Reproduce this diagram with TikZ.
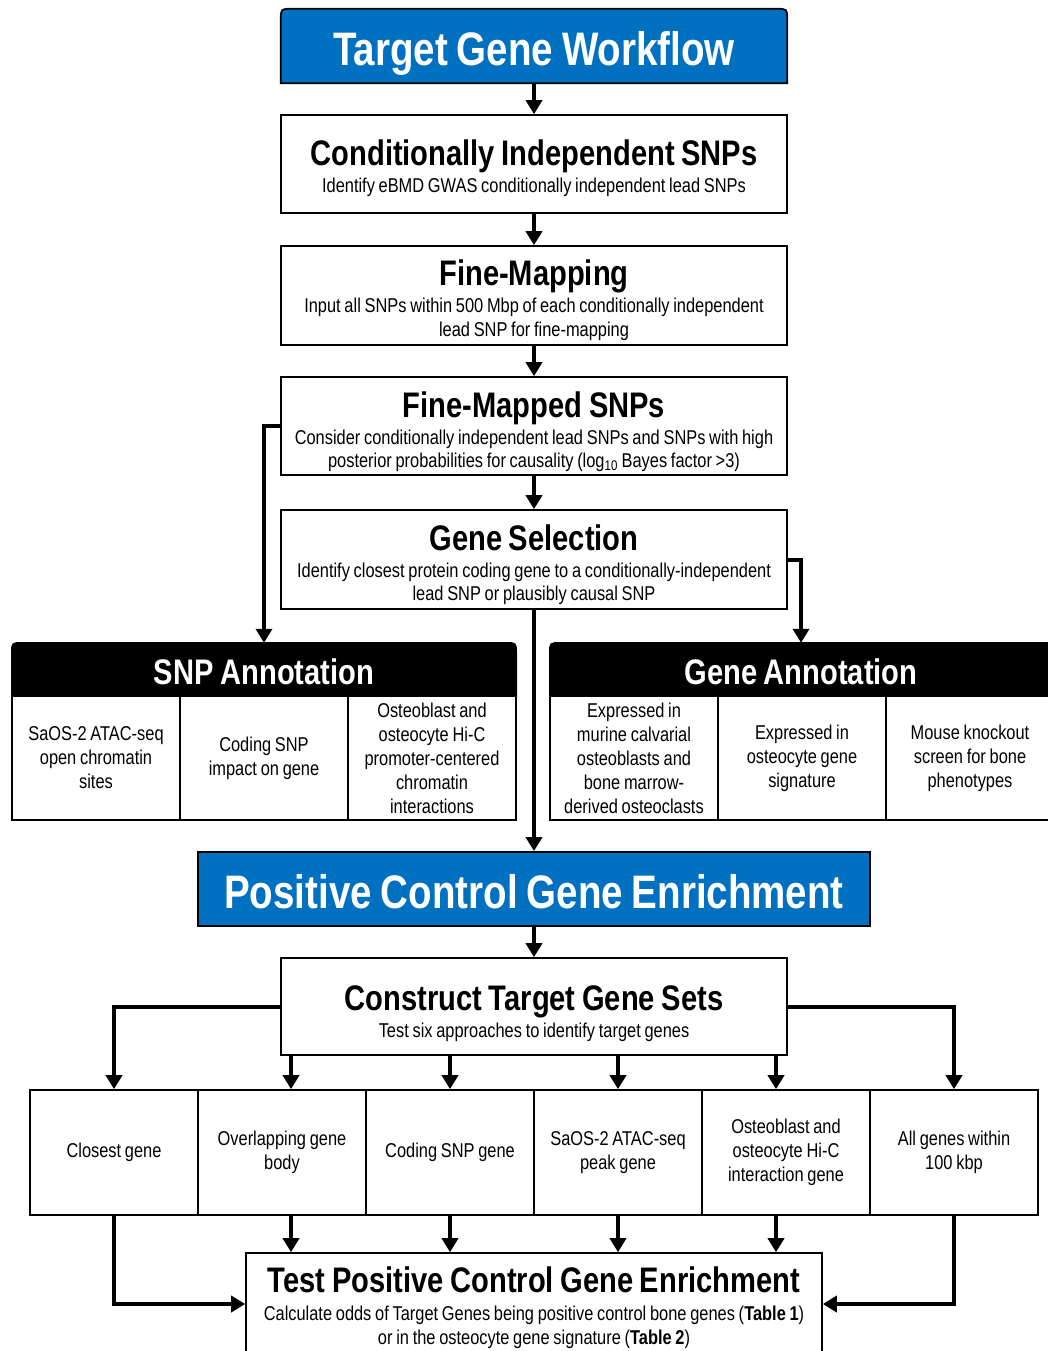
\documentclass[tikz,border=0pt]{standalone}
\usepackage{fontspec}
\setmainfont[FakeStretch=0.82,WordSpace=0.82]{Liberation Sans}
\usetikzlibrary{arrows.meta,calc}
\definecolor{wfblue}{HTML}{0070C0}
\newcommand{\toprnd}[1]{(#1.south west) -- ($(#1.north west)+(0,11)$) .. controls (#1.north west) .. ($(#1.north west)+(11,0)$) -- ($(#1.north east)+(-11,0)$) .. controls (#1.north east) .. ($(#1.north east)+(0,11)$) -- (#1.south east) -- cycle}
\begin{document}
\begin{tikzpicture}[x=1pt,y=-1pt,
  frame/.style={draw=none,inner sep=0pt},
  box/.style={draw=black,line width=1.6pt,fill=white,inner sep=0pt,minimum width=506pt},
  bluebox/.style={draw=black,line width=1.8pt,fill=wfblue,inner sep=0pt},
  cell/.style={draw=black,line width=1.6pt,fill=white,inner sep=0pt,minimum width=168pt,align=center,font=\fontsize{20}{24}\selectfont},
  big/.style={font=\fontsize{47}{56}\selectfont\bfseries,text=white,anchor=base,inner sep=0pt},
  head/.style={font=\fontsize{35.5}{42}\selectfont\bfseries,anchor=base,inner sep=0pt},
  hwhite/.style={head,text=white},
  body/.style={font=\fontsize{20}{24}\selectfont,anchor=base,inner sep=0pt},
  arr/.style={line width=4pt,-{Triangle[width=16pt,length=14pt]}}
]
\useasboundingbox[fill=white] (0,0) rectangle (1048,1351);

% ---------- top chain ----------
\node[frame,minimum width=506pt,minimum height=74pt] (title) at (534,46) {};
\fill[wfblue] \toprnd{title};
\draw[black,line width=1.8pt] \toprnd{title};
\node[big] (titleT) at (534,66) {Target Gene Workflow};

\node[box,minimum height=98pt] (cis) at (534,164) {};
\node[head] (cisT) at (534,166) {Conditionally Independent SNPs};
\node[body] (cisS) at (534,193) {Identify eBMD GWAS conditionally independent lead SNPs};

\node[box,minimum height=99pt] (fm) at (534,295.5) {};
\node[head] (fmT) at (534,285) {Fine-Mapping};
\node[body] (fmS1) at (534,312) {Input all SNPs within 500 Mbp of each conditionally independent};
\node[body] (fmS2) at (534,336) {lead SNP for fine-mapping};

\node[box,minimum height=98pt] (fms) at (534,426) {};
\node[head] (fmsT) at (534,417) {Fine-Mapped SNPs};
\node[body] (fmsS1) at (534,444) {Consider conditionally independent lead SNPs and SNPs with high};
\node[body] (fmsS2) at (534,467) {posterior probabilities for causality (log\textsubscript{10} Bayes factor >3)};

\node[box,minimum height=99pt] (gs) at (534,559.5) {};
\node[head] (gsT) at (534,550) {Gene Selection};
\node[body] (gsS1) at (534,577) {Identify closest protein coding gene to a conditionally-independent};
\node[body] (gsS2) at (534,600) {lead SNP or plausibly causal SNP};

% ---------- SNP annotation ----------
\node[frame,minimum width=504pt,minimum height=53pt] (snpann) at (264,669.5) {};
\filldraw[black,line width=1.6pt] \toprnd{snpann};
\node[hwhite] (snpannT) at (264,684) {SNP Annotation};
\node[cell,minimum height=124pt] (s1) at (96,758) {SaOS-2 ATAC-seq\\open chromatin\\sites};
\node[cell,minimum height=124pt] (s2) at (264,758) {Coding SNP\\impact on gene};
\node[cell,minimum height=124pt] (s3) at (432,758) {Osteoblast and\\osteocyte Hi-C\\promoter-centered\\chromatin\\interactions};

% ---------- Gene annotation ----------
\node[frame,minimum width=502pt,minimum height=53pt] (geneann) at (801,669.5) {};
\filldraw[black,line width=1.6pt] \toprnd{geneann};
\node[hwhite] (geneannT) at (801,684) {Gene Annotation};
\node[cell,minimum height=124pt] (g1) at (634,758) {Expressed in\\murine calvarial\\osteoblasts and\\bone marrow-\\derived osteoclasts};
\node[cell,minimum height=124pt] (g2) at (802,758) {Expressed in\\osteocyte gene\\signature};
\node[cell,minimum height=124pt] (g3) at (970,758) {Mouse knockout\\screen for bone\\phenotypes};

% ---------- positive control ----------
\node[bluebox,minimum width=672pt,minimum height=74pt] (pcge) at (534,889) {};
\node[big] (pcgeT) at (534,908) {Positive Control Gene Enrichment};

\node[box,minimum height=97pt] (ctgs) at (534,1006.5) {};
\node[head] (ctgsT) at (534,1010) {Construct Target Gene Sets};
\node[body] (ctgsS) at (534,1037) {Test six approaches to identify target genes};

\node[cell,minimum height=125pt] (c1) at (114,1152.5) {Closest gene};
\node[cell,minimum height=125pt] (c2) at (282,1152.5) {Overlapping gene\\body};
\node[cell,minimum height=125pt] (c3) at (450,1152.5) {Coding SNP gene};
\node[cell,minimum height=125pt] (c4) at (618,1152.5) {SaOS-2 ATAC-seq\\peak gene};
\node[cell,minimum height=125pt] (c5) at (786,1152.5) {Osteoblast and\\osteocyte Hi-C\\interaction gene};
\node[cell,minimum height=125pt] (c6) at (954,1152.5) {All genes within\\100 kbp};

\node[box,minimum width=576pt,minimum height=102pt] (test) at (534,1304) {};
\node[head] (testT) at (534,1292) {Test Positive Control Gene Enrichment};
\node[body] (testS1) at (534,1320) {Calculate odds of Target Genes being positive control bone genes (\textbf{Table 1})};
\node[body] (testS2) at (534,1344) {or in the osteocyte gene signature (\textbf{Table 2})};

% ---------- connectors ----------
\draw[arr] (title.south) -- (cis.north);
\draw[arr] (cis.south) -- (fm.north);
\draw[arr] (fm.south) -- (fms.north);
\draw[arr] (fms.south) -- (gs.north);
\draw[arr] (fms.west) -| (snpann.north);
\draw[arr] (gs.east) -| (geneann.north);
\draw[arr] (gs.south) -- (pcge.north);
\draw[arr] (pcge.south) -- (ctgs.north);
\draw[arr] (ctgs.west) -| (c1.north);
\draw[arr] (ctgs.east) -| (c6.north);
\coordinate (x2) at (291,0);
\coordinate (x3) at (450,0);
\coordinate (x4) at (618,0);
\coordinate (x5) at (776,0);
\draw[arr] (ctgs.south -| x2) -- (c2.north -| x2);
\draw[arr] (ctgs.south -| x3) -- (c3.north -| x3);
\draw[arr] (ctgs.south -| x4) -- (c4.north -| x4);
\draw[arr] (ctgs.south -| x5) -- (c5.north -| x5);
\draw[arr] (c2.south -| x2) -- (test.north -| x2);
\draw[arr] (c3.south -| x3) -- (test.north -| x3);
\draw[arr] (c4.south -| x4) -- (test.north -| x4);
\draw[arr] (c5.south -| x5) -- (test.north -| x5);
\draw[arr] (c1.south) |- (test.west);
\draw[arr] (c6.south) |- (test.east);
\end{tikzpicture}
\end{document}
